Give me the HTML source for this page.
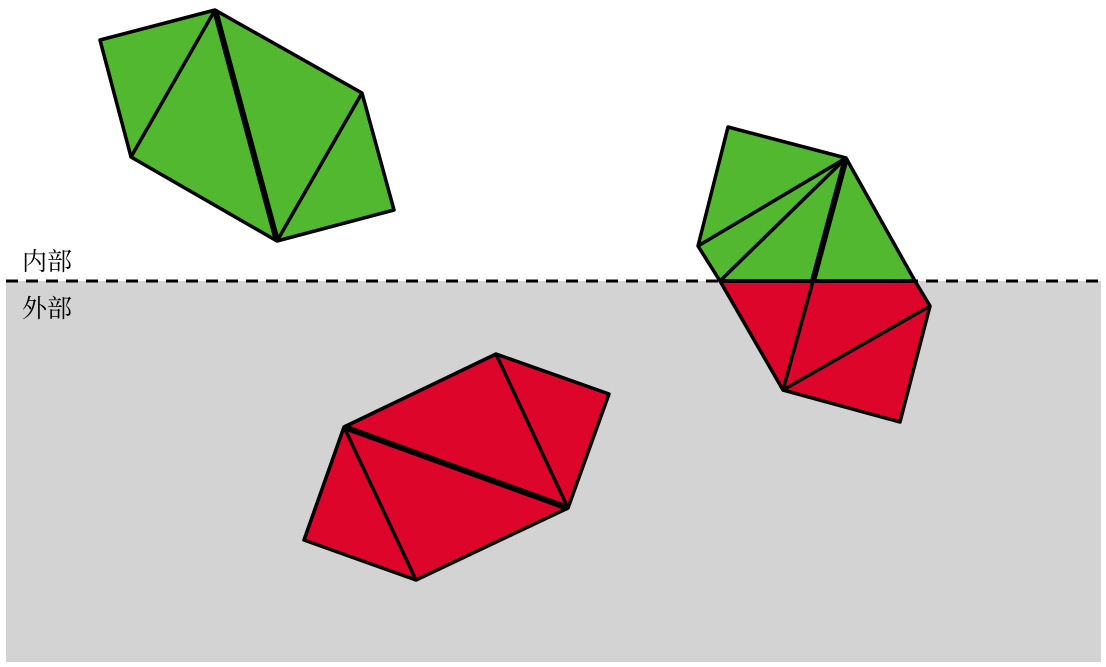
<!DOCTYPE html>
<html><head><meta charset="utf-8"><style>
html,body{margin:0;padding:0;background:#fff;}
svg{display:block;}
text{font-family:"Liberation Serif","Noto Serif CJK SC","Noto Sans CJK SC",serif;font-size:25px;fill:#000;}
</style></head><body>
<svg width="1106" height="667" viewBox="0 0 1106 667">
<rect x="6" y="281" width="1095" height="381" fill="#d3d3d3"/>
<line x1="6" y1="281" x2="1101" y2="281" stroke="#000" stroke-width="3" stroke-dasharray="12,8"/>
<text x="22" y="270">内部</text>
<text x="22" y="317">外部</text>

<g stroke="#000" stroke-width="3.5" stroke-linejoin="round">
<polygon points="100,40 215,10 362,93 394,210 277,241 131,157" fill="#52b82f"/>
<line x1="131" y1="157" x2="215" y2="10"/>
<line x1="215" y1="10" x2="277" y2="241" stroke-width="6"/>
<line x1="277" y1="241" x2="362" y2="93"/>
</g>

<g stroke="#000" stroke-width="3.5" stroke-linejoin="round">
<polygon points="344,427 496,354 609,394 568,508 416,580 304,540" fill="#de052b"/>
<line x1="344" y1="427" x2="416" y2="580"/>
<line x1="344" y1="427" x2="568" y2="508" stroke-width="6"/>
<line x1="496" y1="354" x2="568" y2="508"/>
</g>

<g stroke="#000" stroke-width="3.5" stroke-linejoin="round">
<polygon points="720,281 915,281 930,306 900,422 783,390" fill="#de052b"/>
<polygon points="728,127 846,158 915,281 720,281 698,246" fill="#52b82f"/>
<line x1="720" y1="281" x2="915" y2="281"/>
<line x1="698" y1="246" x2="846" y2="158"/>
<line x1="720" y1="281" x2="846" y2="158"/>
<line x1="846" y1="158" x2="813" y2="281" stroke-width="6"/>
<line x1="813" y1="281" x2="783" y2="390"/>
<line x1="783" y1="390" x2="930" y2="306"/>
</g>
</svg>
</body></html>
